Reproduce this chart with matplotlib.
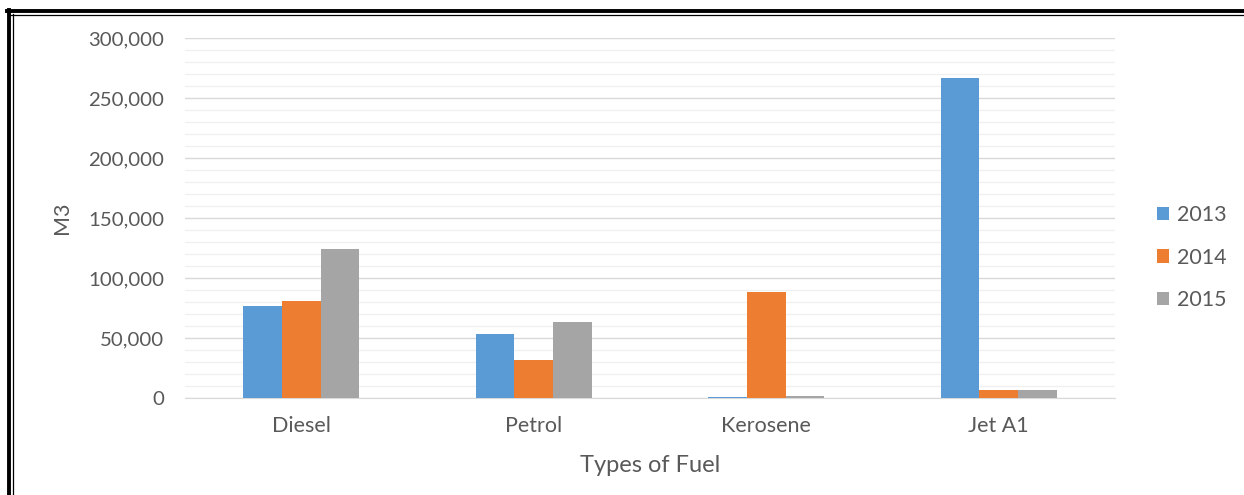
import matplotlib
matplotlib.use("Agg")
import matplotlib.pyplot as plt
from matplotlib.lines import Line2D
from matplotlib.ticker import FuncFormatter, MultipleLocator
import numpy as np

categories = ["Diesel", "Petrol", "Kerosene", "Jet A1"]
years = ["2013", "2014", "2015"]
v2013 = [77000, 53000, 1200, 267000]
v2014 = [80500, 31500, 88500, 6800]
v2015 = [124500, 63500, 1500, 6800]
colors = ["#5B9BD5", "#ED7D31", "#A5A5A5"]

plt.rcParams['font.family'] = ['Lato', 'DejaVu Sans']
fig = plt.figure(figsize=(12.44, 4.95), dpi=100)
ax = fig.add_axes([185/1244, 1-398/495, 930/1244, 360/495])

x = np.arange(len(categories))
w = 0.5/3
series = [v2013, v2014, v2015]
for i, (vals, c, y) in enumerate(zip(series, colors, years)):
    ax.bar(x + (i-1)*w, vals, width=w, color=c, label=y, zorder=3)

ax.set_xlim(-0.5, 3.5)
ax.set_ylim(0, 300000)
ax.yaxis.set_major_locator(MultipleLocator(50000))
ax.yaxis.set_minor_locator(MultipleLocator(10000))
ax.yaxis.set_major_formatter(FuncFormatter(lambda v, p: f"{int(v):,}"))
ax.grid(axis='y', which='major', color='#d9d9d9', linewidth=1, zorder=0)
ax.grid(axis='y', which='minor', color='#f0f0f0', linewidth=1, zorder=0)
for s in ['left', 'right', 'top']:
    ax.spines[s].set_visible(False)
ax.spines['bottom'].set_color('#d9d9d9')
ax.tick_params(axis='both', which='both', length=0, colors='#595959')
ax.tick_params(axis='y', labelsize=14.7, pad=15)
ax.tick_params(axis='x', labelsize=15.5, pad=13)
ax.set_xticks(x)
ax.set_xticklabels(categories)
ax.set_xlabel("Types of Fuel", fontsize=17, color='#595959', labelpad=14)
ax.set_ylabel("M3", fontsize=15.5, color='#595959', labelpad=12)

leg = ax.legend(loc='center left', bbox_to_anchor=(1.024, 0.39), frameon=False,
                fontsize=15.4, labelcolor='#595959', handlelength=0.6, handleheight=0.6,
                handletextpad=0.35, labelspacing=1.05)

# border lines
fig.add_artist(Line2D([7/1244, 1], [1-11/495, 1-11/495], color='black', linewidth=2.8, transform=fig.transFigure))
fig.add_artist(Line2D([11/1244, 1], [1-14.5/495, 1-14.5/495], color='black', linewidth=0.9, transform=fig.transFigure))
fig.add_artist(Line2D([9/1244, 9/1244], [0, 1-9.7/495], color='black', linewidth=2.8, transform=fig.transFigure))
fig.add_artist(Line2D([12.5/1244, 12.5/1244], [0, 1-14/495], color='black', linewidth=0.9, transform=fig.transFigure))

fig.savefig("out.png", dpi=100)
